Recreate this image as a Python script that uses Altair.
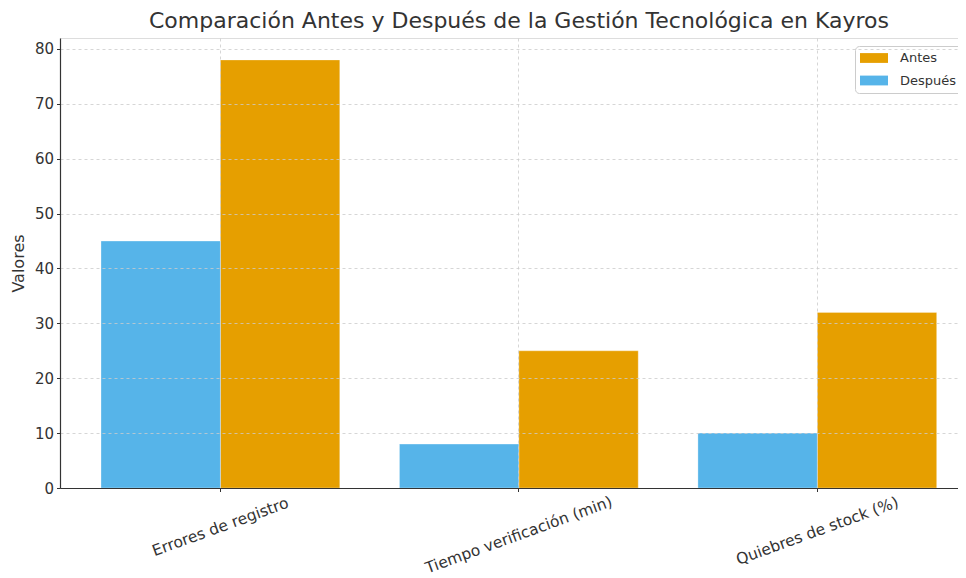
import altair as alt
import pandas as pd

categorias = ["Errores de registro", "Tiempo verificación (min)", "Quiebres de stock (%)"]
antes = [78, 25, 32]
despues = [45, 8, 10]
series = ["Antes", "Después"]
colores = ["#E69F00", "#56B4E9"]

rows = []
for c, a, d in zip(categorias, antes, despues):
    rows.append({"Categoría": c, "Periodo": "Antes", "Valor": a})
    rows.append({"Categoría": c, "Periodo": "Después", "Valor": d})
df = pd.DataFrame(rows)

FONT = "DejaVu Sans"
TXT = "#333333"

label_pad = {
    "condition": [
        {"test": f"datum.value == '{categorias[0]}'", "value": 35},
        {"test": f"datum.value == '{categorias[1]}'", "value": 43},
    ],
    "value": 39,
}

chart = alt.Chart(df).mark_bar(stroke="white", strokeWidth=0.5, strokeOpacity=0.6).encode(
    x=alt.X(
        "Categoría:N",
        sort=categorias,
        scale=alt.Scale(paddingInner=0.2, paddingOuter=0.1044, align=0.658, round=False),
        axis=alt.Axis(
            title=None,
            labelAngle=-20,
            labelAlign="center",
            labelBaseline="middle",
            labelPadding=label_pad,
            labelFont=FONT,
            labelFontSize=15.5,
            labelColor=TXT,
            tickSize=3.5,
            tickColor="#333333",
            domainColor="#333333",
            domainWidth=1.2,
            grid=True,
            gridDash=[3, 3],
            gridColor="#cccccc",
            gridWidth=0.8,
            zindex=1,
            labelLimit=400,
        ),
    ),
    xOffset=alt.XOffset("Periodo:N", sort=["Después", "Antes"],
                        scale=alt.Scale(paddingInner=0, paddingOuter=0)),
    y=alt.Y(
        "Valor:Q",
        scale=alt.Scale(domain=[0, 82], nice=False, zero=True),
        axis=alt.Axis(
            title="Valores",
            titleFont=FONT,
            titleFontSize=16,
            titleFontWeight="normal",
            titleColor=TXT,
            titlePadding=8,
            values=[0, 10, 20, 30, 40, 50, 60, 70, 80],
            labelFont=FONT,
            labelFontSize=15,
            labelColor=TXT,
            labelPadding=3,
            tickSize=3.5,
            tickColor="#333333",
            domainColor="#333333",
            domainWidth=1.2,
            grid=True,
            gridDash=[3, 3],
            gridColor="#cccccc",
            gridWidth=0.8,
            zindex=1,
        ),
    ),
    color=alt.Color(
        "Periodo:N",
        scale=alt.Scale(domain=series, range=colores),
        legend=alt.Legend(
            title=None,
            orient="none",
            legendX=795,
            legendY=8,
            symbolType="M-1,-0.7L3,-0.7L3,0.7L-1,0.7Z",
            symbolSize=196,
            symbolStrokeWidth=0,
            symbolOpacity=1,
            labelFont=FONT,
            labelFontSize=13,
            labelColor=TXT,
            labelOffset=26,
            rowPadding=8.5,
            padding=5,
            strokeColor="#cccccc",
            fillColor="white",
            cornerRadius=4,
        ),
    ),
).properties(
    width=898,
    height=450,
    autosize=alt.AutoSizeParams(type="none"),
    padding={"left": 52, "top": 30, "right": 0, "bottom": 90},
    title=alt.TitleParams(
        "Comparación Antes y Después de la Gestión Tecnológica en Kayros",
        font=FONT,
        fontSize=22,
        fontWeight="normal",
        color=TXT,
        anchor="middle",
        offset=5,
        dx=10,
    ),
).configure_view(strokeWidth=0).configure(background="white")

chart.save("out.html", embed_options={"renderer": "svg", "actions": False})
